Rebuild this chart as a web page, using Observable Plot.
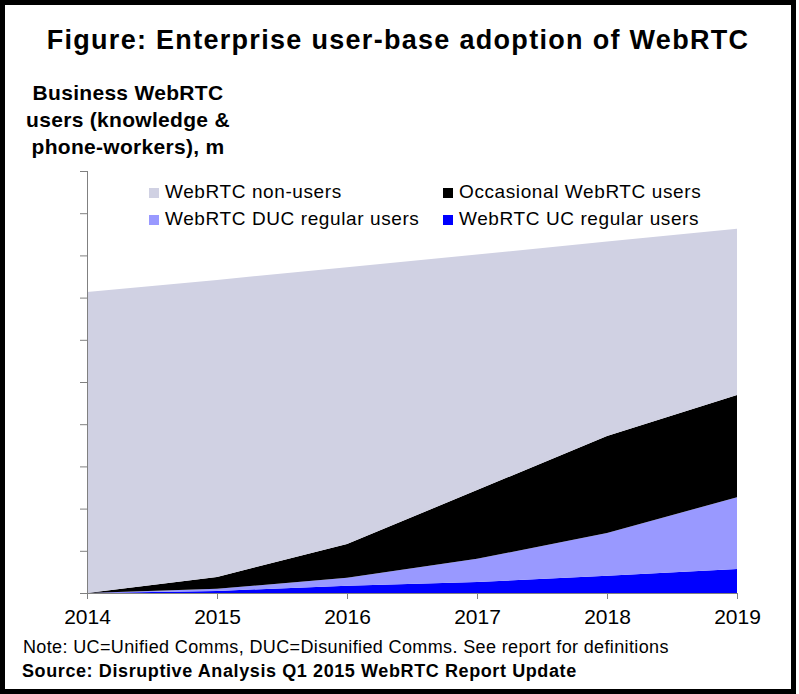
<!DOCTYPE html>
<html>
<head>
<meta charset="utf-8">
<script src="https://cdn.jsdelivr.net/npm/d3@7"></script>
<script src="https://cdn.jsdelivr.net/npm/@observablehq/plot@0.6"></script>
<style>
  html, body { margin: 0; padding: 0; background: #fff; }
  #wrap { position: relative; width: 799px; height: 694px; font-family: "Liberation Sans", Arial, sans-serif; color: #000; overflow: hidden; }
  #frame { position: absolute; left: 0; top: 0; width: 796px; height: 694px; border: 5px solid #000; box-sizing: border-box; pointer-events: none; }
  .t { position: absolute; white-space: nowrap; line-height: 1; }
  #chart { position: absolute; left: 0; top: 150px; }
  .sw { position: absolute; width: 10px; height: 10px; }
</style>
</head>
<body>
<div id="wrap">
  <div id="chart"></div>
  <div class="t" id="title" style="left:0; width:796px; text-align:center; top:27px; font-size:27px; font-weight:bold; letter-spacing:1.3px;">Figure: Enterprise user-base adoption of WebRTC</div>
  <div class="t" id="ytitle" style="left:0; width:256px; text-align:center; top:79px; font-size:21px; font-weight:bold; line-height:27px; letter-spacing:0.3px;">Business WebRTC<br>users (knowledge &amp;<br>phone-workers), m</div>
  <div id="legend"></div>
  <div class="t" id="note" style="left:23px; top:638px; font-size:18px; letter-spacing:0.37px;">Note: UC=Unified Comms, DUC=Disunified Comms. See report for definitions</div>
  <div class="t" id="source" style="left:22px; top:662px; font-size:18px; font-weight:bold; letter-spacing:0.6px;">Source: Disruptive Analysis Q1 2015 WebRTC Report Update</div>
  <div id="frame"></div>
</div>
<script>
// Data (y axis unlabeled, arbitrary units in millions)
const years = [2014, 2015, 2016, 2017, 2018, 2019];
const ucRegular = [0, 5, 17, 26, 41, 57];
const ducRegular = [0, 5, 19, 55, 101, 170];
const occasional = [0, 28, 80, 163, 230, 242];
const nonUsers = [713, 704, 656, 558, 461, 394];

const seriesNames = ["WebRTC UC regular users", "WebRTC DUC regular users", "Occasional WebRTC users", "WebRTC non-users"];
const seriesValues = [ucRegular, ducRegular, occasional, nonUsers];
const seriesColors = ["#0000FF", "#9999FF", "#000000", "#D0D1E3"];
const yTicks = [0, 100, 200, 300, 400, 500, 600, 700, 800, 900, 1000];

// legend layout order (as in reference)
const legendOrder = ["WebRTC non-users", "Occasional WebRTC users", "WebRTC DUC regular users", "WebRTC UC regular users"];

const data = [];
seriesNames.forEach((s, i) => {
  years.forEach((yr, j) => data.push({ year: yr, series: s, value: seriesValues[i][j] }));
});

const chart = Plot.plot({
  width: 799,
  height: 544,
  marginLeft: 87,
  marginRight: 62,
  marginTop: 21,
  marginBottom: 101,
  style: { fontFamily: "'Liberation Sans', Arial, sans-serif", color: "#000", background: "transparent" },
  x: { type: "linear", domain: [2014, 2019] },
  y: { domain: [0, 1000] },
  color: { domain: seriesNames, range: seriesColors },
  marks: [
    Plot.areaY(data, { x: "year", y: "value", fill: "series", order: seriesNames, curve: "linear" }),
    Plot.ruleX([2014], { y1: 0, y2: 1000, stroke: "#808080", strokeWidth: 1 }),
    Plot.ruleY([0], { stroke: "#808080", strokeWidth: 1 }),
    Plot.axisY({ ticks: yTicks, tickSize: 7, tickFormat: () => "", stroke: "#808080", strokeOpacity: 1, label: null }),
    Plot.axisX({ ticks: years, tickSize: 6, tickPadding: 10, tickFormat: d => String(d), fontSize: 21, stroke: "#808080", strokeOpacity: 1, label: null, fill: "#000" })
  ]
});
document.getElementById("chart").appendChild(chart);

// Legend
const legendPos = {
  "WebRTC non-users": { sx: 149, sy: 188, tx: 165 },
  "Occasional WebRTC users": { sx: 443, sy: 188, tx: 459 },
  "WebRTC DUC regular users": { sx: 149, sy: 215, tx: 165 },
  "WebRTC UC regular users": { sx: 443, sy: 215, tx: 459 }
};
const legend = document.getElementById("legend");
legendOrder.forEach(name => {
  const p = legendPos[name];
  const c = seriesColors[seriesNames.indexOf(name)];
  const sw = document.createElement("div");
  sw.className = "sw";
  sw.style.left = p.sx + "px"; sw.style.top = p.sy + "px"; sw.style.background = c;
  legend.appendChild(sw);
  const t = document.createElement("div");
  t.className = "t";
  t.style.left = p.tx + "px"; t.style.top = (p.sy - 6) + "px"; t.style.fontSize = "19px"; t.style.letterSpacing = "0.6px";
  t.textContent = name;
  legend.appendChild(t);
});
</script>
</body>
</html>
